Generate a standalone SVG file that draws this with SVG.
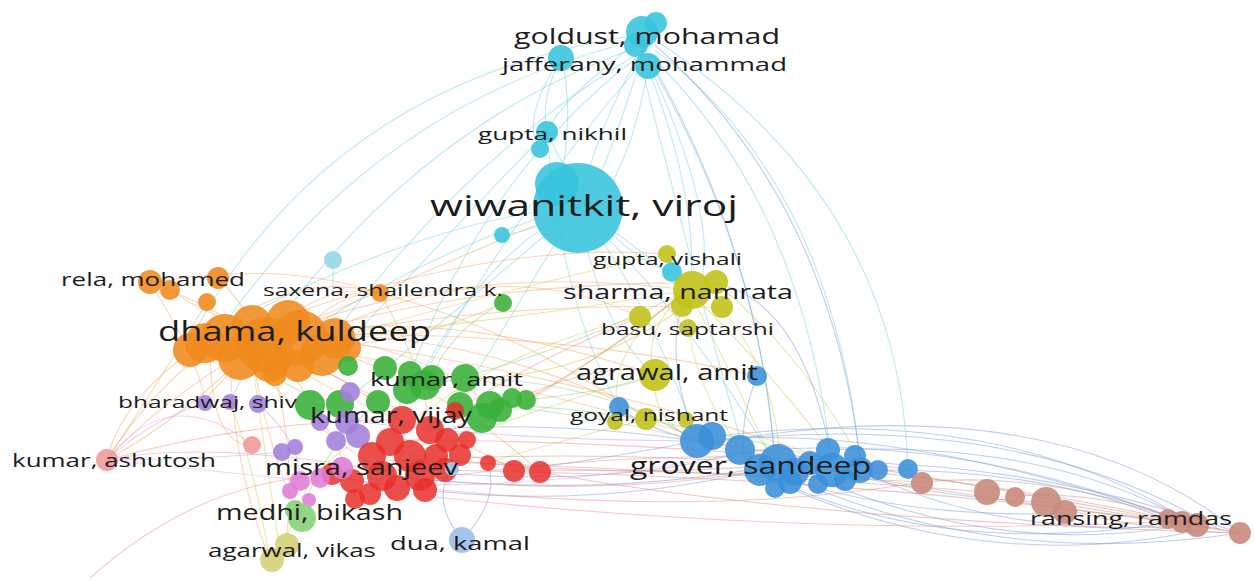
<svg xmlns="http://www.w3.org/2000/svg" width="1254" height="581" viewBox="0 0 1254 581">
<style>
.e{fill:none;stroke-width:1.1}
.ecy{stroke:#7fd4e3;opacity:.5}
.eor{stroke:#f3a463;opacity:.45}
.eye{stroke:#d3d164;opacity:.5}
.ebl{stroke:#7f9fd6;opacity:.5}
.ebr{stroke:#cf9488;opacity:.5}
.ere{stroke:#ec7f7c;opacity:.42}
.egr{stroke:#86cf86;opacity:.45}
.epu{stroke:#b9a0e2;opacity:.45}
.epk{stroke:#e9a0e0;opacity:.45}
.cy{fill:#36c4dc;opacity:.88}
.lcy{fill:#9edbe6}
.ye{fill:#c2c21c;opacity:.9}
.lye{fill:#d6d47e;opacity:.95}
.bl{fill:#3a8fd9;opacity:.88}
.lbl{fill:#a4c5ea}
.br{fill:#c98a7c;opacity:.9}
.or{fill:#ef8a1d;opacity:.88}
.gr{fill:#38b038;opacity:.88}
.lgr{fill:#8dd47f;opacity:.95}
.pu{fill:#a27fdb;opacity:.88}
.pk{fill:#e07bd6;opacity:.88}
.lre{fill:#ef9b9b;opacity:.9}
.re{fill:#e8302c;opacity:.85}
text{font-family:"Open Sans","Liberation Sans",sans-serif;fill:#1c1c1c}
</style>
<rect width="1254" height="581" fill="#ffffff"/>
<g id="connectors">
<!-- cyan -->
<path class="e ecy" d="M645,45 Q600,120 578,207"/>
<path class="e ecy" d="M645,45 Q620,130 590,200"/>
<path class="e ecy" d="M650,50 Q640,140 600,205"/>
<path class="e ecy" d="M640,40 Q560,100 547,132"/>
<path class="e ecy" d="M561,57 Q540,100 547,132"/>
<path class="e ecy" d="M561,57 Q575,110 560,185"/>
<path class="e ecy" d="M561,57 Q520,120 540,149"/>
<path class="e ecy" d="M645,60 Q700,200 690,290"/>
<path class="e ecy" d="M648,62 Q720,220 700,285"/>
<path class="e ecy" d="M650,55 Q800,200 830,450"/>
<path class="e ecy" d="M655,50 Q830,180 860,460"/>
<path class="e ecy" d="M645,55 Q760,250 775,460"/>
<path class="e ecy" d="M640,60 Q700,300 745,455"/>
<path class="e ecy" d="M645,45 Q420,120 265,340"/>
<path class="e ecy" d="M640,40 Q380,100 220,330"/>
<path class="e ecy" d="M645,50 Q470,150 330,340"/>
<path class="e ecy" d="M638,35 Q330,80 190,340"/>
<path class="e ecy" d="M645,60 Q520,200 410,400"/>
<path class="e ecy" d="M640,55 Q450,200 380,470"/>
<path class="e ecy" d="M655,40 Q900,200 908,469"/>
<path class="e ecy" d="M578,207 Q450,240 300,335"/>
<path class="e ecy" d="M578,207 Q470,260 400,420"/>
<path class="e ecy" d="M578,207 Q520,300 430,450"/>
<path class="e ecy" d="M578,207 Q650,300 697,441"/>
<path class="e ecy" d="M578,207 Q700,330 775,465"/>
<path class="e ecy" d="M578,207 Q630,240 688,290"/>
<path class="e ecy" d="M578,207 Q420,220 220,330"/>
<path class="e ecy" d="M578,207 Q540,230 502,235"/>
<path class="e ecy" d="M578,207 Q470,300 340,405"/>
<path class="e ecy" d="M578,207 Q600,330 655,375"/>
<path class="e ecy" d="M547,132 Q480,200 350,340"/>
<path class="e ecy" d="M547,132 Q600,250 672,272"/>
<path class="e ecy" d="M547,132 Q560,300 620,410"/>
<path class="e ecy" d="M333,260 L333,300"/>
<!-- orange -->
<path class="e eor" d="M265,340 Q320,280 380,293"/>
<path class="e eor" d="M220,330 Q300,270 380,293"/>
<path class="e eor" d="M300,335 Q340,290 380,293"/>
<path class="e eor" d="M265,340 Q450,260 688,290"/>
<path class="e eor" d="M300,335 Q480,280 715,283"/>
<path class="e eor" d="M330,330 Q500,250 640,317"/>
<path class="e eor" d="M320,335 Q520,300 722,308"/>
<path class="e eor" d="M250,330 Q480,240 667,254"/>
<path class="e eor" d="M265,340 Q430,300 655,375"/>
<path class="e eor" d="M300,335 Q500,330 697,441"/>
<path class="e eor" d="M320,350 Q560,390 740,450"/>
<path class="e eor" d="M265,340 Q160,400 107,460"/>
<path class="e eor" d="M220,340 Q150,390 107,460"/>
<path class="e eor" d="M250,350 Q180,420 107,460"/>
<path class="e eor" d="M200,345 Q120,400 107,460"/>
<path class="e eor" d="M265,340 Q300,450 285,548"/>
<path class="e eor" d="M250,345 Q270,460 300,517"/>
<path class="e eor" d="M230,345 Q230,460 270,560"/>
<path class="e eor" d="M210,345 Q210,450 255,445"/>
<path class="e eor" d="M265,340 Q420,420 515,470"/>
<path class="e eor" d="M300,340 Q440,380 540,472"/>
<path class="e eor" d="M265,340 Q400,330 490,405"/>
<path class="e eor" d="M265,340 Q300,380 400,420"/>
<path class="e eor" d="M240,350 Q300,420 380,470"/>
<path class="e eor" d="M280,360 Q330,420 350,480"/>
<path class="e eor" d="M150,283 Q200,300 265,340"/>
<path class="e eor" d="M218,278 Q240,300 265,340"/>
<path class="e eor" d="M170,290 Q230,330 300,340"/>
<path class="e eor" d="M150,283 Q280,260 380,293"/>
<path class="e eor" d="M150,283 Q200,360 205,403"/>
<path class="e eor" d="M265,340 Q500,240 578,207"/>
<path class="e eor" d="M265,340 Q200,400 205,403"/>
<path class="e eor" d="M265,340 Q380,360 503,303"/>
<path class="e eor" d="M300,335 Q560,330 757,376"/>
<path class="e eor" d="M330,340 Q600,380 830,460"/>
<path class="e eor" d="M207,302 Q160,380 107,460"/>
<path class="e eor" d="M380,293 Q430,380 430,440"/>
<path class="e eor" d="M380,293 Q520,330 646,419"/>
<!-- yellow -->
<path class="e eye" d="M688,290 Q640,330 655,375"/>
<path class="e eye" d="M688,290 Q720,350 775,465"/>
<path class="e eye" d="M688,290 Q760,360 830,450"/>
<path class="e eye" d="M715,283 Q800,350 860,460"/>
<path class="e eye" d="M640,317 Q500,350 400,430"/>
<path class="e eye" d="M688,290 Q520,320 300,340"/>
<path class="e eye" d="M655,375 Q650,420 697,441"/>
<path class="e eye" d="M655,375 Q560,400 430,450"/>
<path class="e eye" d="M688,290 Q600,350 620,418"/>
<path class="e eye" d="M722,308 Q780,380 780,470"/>
<path class="e eye" d="M688,290 Q550,400 380,480"/>
<path class="e eye" d="M688,328 Q700,400 744,452"/>
<path class="e eye" d="M716,282 Q600,380 465,378"/>
<path class="e eye" d="M270,560 Q250,450 230,402"/>
<path class="e eye" d="M285,548 Q300,470 360,440"/>
<path class="e eye" d="M280,550 Q260,420 250,345"/>
<path class="e eye" d="M645,420 Q560,440 488,463"/>
<path class="e eye" d="M667,254 Q500,290 330,340"/>
<!-- blue -->
<path class="e ebl" d="M697,441 Q900,420 1195,525"/>
<path class="e ebl" d="M744,452 Q950,430 1180,521"/>
<path class="e ebl" d="M775,465 Q1000,450 1240,533"/>
<path class="e ebl" d="M830,450 Q1050,440 1195,525"/>
<path class="e ebl" d="M860,470 Q1000,540 1195,525"/>
<path class="e ebl" d="M775,480 Q950,560 1180,521"/>
<path class="e ebl" d="M790,478 Q1000,570 1240,533"/>
<path class="e ebl" d="M760,475 Q980,580 1210,528"/>
<path class="e ebl" d="M700,445 Q1050,380 1240,533"/>
<path class="e ebl" d="M710,437 Q1000,400 1195,525"/>
<path class="e ebl" d="M720,440 Q1020,410 1220,530"/>
<path class="e ebl" d="M760,470 Q900,520 1065,513"/>
<path class="e ebl" d="M830,470 Q950,500 1047,502"/>
<path class="e ebl" d="M880,470 Q1050,470 1168,520"/>
<path class="e ebl" d="M810,475 Q1000,560 1190,524"/>
<path class="e ebl" d="M697,441 Q600,460 515,470"/>
<path class="e ebl" d="M744,452 Q600,490 410,470"/>
<path class="e ebl" d="M775,465 Q600,500 380,475"/>
<path class="e ebl" d="M697,441 Q550,420 430,430"/>
<path class="e ebl" d="M760,470 Q550,520 330,475"/>
<path class="e ebl" d="M830,450 Q800,300 715,283"/>
<path class="e ebl" d="M775,465 Q760,250 650,60"/>
<path class="e ebl" d="M860,460 Q830,200 655,45"/>
<path class="e ebl" d="M757,376 Q740,420 744,452"/>
<path class="e ebl" d="M697,441 Q660,350 688,290"/>
<path class="e ebl" d="M619,408 Q650,430 697,441"/>
<path class="e ebl" d="M462,540 Q430,500 452,468"/>
<path class="e ebl" d="M462,540 Q500,500 488,463"/>
<!-- brown -->
<path class="e ebr" d="M1240,533 Q900,470 697,441"/>
<path class="e ebr" d="M1195,525 Q900,490 744,452"/>
<path class="e ebr" d="M1180,521 Q800,440 410,460"/>
<path class="e ebr" d="M1195,525 Q800,470 370,470"/>
<path class="e ebr" d="M922,482 Q700,470 515,470"/>
<path class="e ebr" d="M987,492 Q700,470 390,460"/>
<path class="e ebr" d="M1240,533 Q1100,510 1047,502"/>
<path class="e ebr" d="M922,482 Q1050,470 1195,525"/>
<path class="e ebr" d="M1240,533 Q800,520 540,472"/>
<path class="e ebr" d="M1015,496 Q1100,490 1180,521"/>
<path class="e ebr" d="M1046,502 Q1120,530 1240,533"/>
<!-- red -->
<path class="e ere" d="M410,455 Q600,480 775,465"/>
<path class="e ere" d="M400,440 Q600,440 830,460"/>
<path class="e ere" d="M380,475 Q600,500 760,470"/>
<path class="e ere" d="M430,450 Q500,460 540,472"/>
<path class="e ere" d="M400,420 Q250,420 107,460"/>
<path class="e ere" d="M380,470 Q200,440 107,460"/>
<path class="e ere" d="M90,578 Q200,480 330,475"/>
<path class="e ere" d="M400,420 Q350,380 265,340"/>
<path class="e ere" d="M410,455 Q550,400 688,290"/>
<path class="e ere" d="M380,475 Q460,390 640,317"/>
<path class="e ere" d="M430,440 Q600,350 655,375"/>
<path class="e ere" d="M395,485 Q700,520 922,482"/>
<path class="e ere" d="M370,490 Q800,540 1180,521"/>
<path class="e ere" d="M420,480 Q700,440 908,469"/>
<!-- green -->
<path class="e egr" d="M465,378 Q600,380 697,441"/>
<path class="e egr" d="M410,390 Q550,360 688,290"/>
<path class="e egr" d="M490,405 Q650,420 775,465"/>
<path class="e egr" d="M503,303 Q450,330 430,380"/>
<path class="e egr" d="M300,517 Q320,450 380,400"/>
<path class="e egr" d="M340,405 Q250,380 265,340"/>
<path class="e egr" d="M460,405 Q600,400 830,460"/>
<path class="e egr" d="M525,400 Q620,390 655,375"/>
<!-- purple / pink -->
<path class="e epu" d="M205,403 Q150,420 107,460"/>
<path class="e epu" d="M258,404 Q300,440 300,480"/>
<path class="e epu" d="M345,420 Q500,440 697,441"/>
<path class="e epu" d="M230,402 Q250,360 265,340"/>
<path class="e epu" d="M282,452 Q200,460 107,460"/>
<path class="e epk" d="M300,480 Q200,470 107,460"/>
<path class="e epk" d="M320,478 Q500,500 744,452"/>
<path class="e epk" d="M252,445 Q170,380 107,460"/>
</g>
<g id="node-goldust"><circle class="cy" cx="642" cy="32" r="16"/><circle class="cy" cx="656" cy="23" r="11"/><circle class="cy" cx="636" cy="45" r="12"/></g>
<g id="node-jafferany"><circle class="cy" cx="648" cy="66" r="13"/><circle class="cy" cx="561" cy="58" r="13"/></g>
<g id="node-gupta-nikhil"><circle class="cy" cx="547" cy="132" r="11"/><circle class="cy" cx="540" cy="149" r="9"/></g>
<g id="node-wiwanitkit"><circle class="cy" cx="578" cy="208" r="45"/><circle class="cy" cx="557" cy="184" r="22"/><circle class="cy" cx="502" cy="235" r="8"/><circle class="lcy" cx="333" cy="260" r="9"/></g>
<g id="node-gupta-vishali"><circle class="ye" cx="667" cy="254" r="9"/><circle class="cy" cx="672" cy="272" r="10"/></g>
<g id="node-sharma"><circle class="ye" cx="692" cy="290" r="19"/><circle class="ye" cx="716" cy="282" r="12"/><circle class="ye" cx="682" cy="306" r="11"/><circle class="ye" cx="640" cy="317" r="11"/><circle class="ye" cx="722" cy="307" r="11"/></g>
<g id="node-basu"><circle class="ye" cx="688" cy="328" r="9"/></g>
<g id="node-agrawal"><circle class="ye" cx="655" cy="375" r="16"/><circle class="bl" cx="757" cy="376" r="10"/></g>
<g id="node-goyal"><circle class="bl" cx="619" cy="407" r="10"/><circle class="ye" cx="615" cy="422" r="8"/><circle class="ye" cx="646" cy="419" r="11"/><circle class="ye" cx="686" cy="420" r="8"/></g>
<g id="node-grover">
<circle class="bl" cx="697" cy="441" r="17"/><circle class="bl" cx="712" cy="436" r="14"/><circle class="bl" cx="740" cy="450" r="15"/><circle class="bl" cx="760" cy="470" r="16"/><circle class="bl" cx="778" cy="463" r="19"/><circle class="bl" cx="795" cy="472" r="14"/><circle class="bl" cx="790" cy="482" r="12"/><circle class="bl" cx="775" cy="488" r="10"/><circle class="bl" cx="828" cy="450" r="12"/><circle class="bl" cx="832" cy="470" r="17"/><circle class="bl" cx="845" cy="480" r="11"/><circle class="bl" cx="855" cy="456" r="11"/><circle class="bl" cx="860" cy="470" r="13"/><circle class="bl" cx="878" cy="470" r="10"/><circle class="bl" cx="908" cy="469" r="10"/><circle class="bl" cx="810" cy="463" r="12"/><circle class="bl" cx="818" cy="484" r="10"/></g>
<g id="node-ransing">
<circle class="br" cx="922" cy="483" r="11"/><circle class="br" cx="987" cy="492" r="13"/><circle class="br" cx="1015" cy="497" r="10"/><circle class="br" cx="1046" cy="502" r="15"/><circle class="br" cx="1065" cy="512" r="12"/><circle class="br" cx="1168" cy="519" r="10"/><circle class="br" cx="1182" cy="522" r="11"/><circle class="br" cx="1197" cy="525" r="12"/><circle class="br" cx="1240" cy="533" r="11"/></g>
<g id="node-dhama">
<circle class="or" cx="190" cy="350" r="17"/><circle class="or" cx="205" cy="343" r="20"/><circle class="or" cx="225" cy="338" r="24"/><circle class="or" cx="252" cy="325" r="20"/><circle class="or" cx="240" cy="358" r="22"/><circle class="or" cx="265" cy="345" r="28"/><circle class="or" cx="288" cy="322" r="22"/><circle class="or" cx="300" cy="338" r="28"/><circle class="or" cx="322" cy="354" r="22"/><circle class="or" cx="335" cy="338" r="20"/><circle class="or" cx="348" cy="348" r="13"/><circle class="or" cx="270" cy="362" r="20"/><circle class="or" cx="298" cy="366" r="16"/><circle class="or" cx="275" cy="374" r="12"/><circle class="or" cx="207" cy="302" r="9"/></g>
<g id="node-rela"><circle class="or" cx="150" cy="282" r="12"/><circle class="or" cx="170" cy="290" r="10"/><circle class="or" cx="218" cy="278" r="11"/></g>
<g id="node-saxena"><circle class="or" cx="380" cy="293" r="9"/><circle class="gr" cx="503" cy="303" r="9"/></g>
<g id="node-kumar-amit">
<circle class="gr" cx="348" cy="366" r="10"/><circle class="gr" cx="385" cy="368" r="12"/><circle class="gr" cx="410" cy="373" r="12"/><circle class="gr" cx="407" cy="390" r="14"/><circle class="gr" cx="425" cy="385" r="15"/><circle class="gr" cx="432" cy="378" r="13"/><circle class="gr" cx="465" cy="378" r="14"/><circle class="gr" cx="460" cy="405" r="13"/><circle class="gr" cx="490" cy="405" r="14"/><circle class="gr" cx="482" cy="418" r="15"/><circle class="gr" cx="500" cy="410" r="12"/><circle class="gr" cx="512" cy="398" r="10"/><circle class="gr" cx="526" cy="400" r="10"/></g>
<g id="node-bharadwaj"><circle class="pu" cx="205" cy="403" r="8"/><circle class="pu" cx="230" cy="402" r="8"/><circle class="pu" cx="258" cy="404" r="9"/></g>
<g id="node-kumar-vijay">
<circle class="gr" cx="310" cy="405" r="15"/><circle class="gr" cx="340" cy="404" r="14"/><circle class="gr" cx="378" cy="402" r="12"/><circle class="pu" cx="350" cy="392" r="10"/><circle class="pu" cx="320" cy="422" r="9"/><circle class="pu" cx="347" cy="422" r="12"/><circle class="pu" cx="358" cy="436" r="12"/><circle class="pu" cx="336" cy="441" r="10"/><circle class="pu" cx="282" cy="452" r="9"/><circle class="pu" cx="295" cy="447" r="8"/>
<circle class="re" cx="402" cy="420" r="14"/><circle class="re" cx="430" cy="430" r="14"/><circle class="re" cx="447" cy="440" r="12"/><circle class="re" cx="455" cy="411" r="9"/><circle class="re" cx="467" cy="440" r="9"/></g>
<g id="node-misra">
<circle class="re" cx="390" cy="442" r="14"/><circle class="re" cx="372" cy="456" r="14"/><circle class="re" cx="410" cy="456" r="16"/><circle class="re" cx="436" cy="456" r="12"/><circle class="re" cx="460" cy="455" r="11"/><circle class="re" cx="382" cy="476" r="15"/><circle class="re" cx="420" cy="476" r="15"/><circle class="re" cx="445" cy="470" r="12"/><circle class="re" cx="352" cy="481" r="12"/><circle class="re" cx="397" cy="488" r="13"/><circle class="re" cx="425" cy="490" r="12"/><circle class="re" cx="332" cy="474" r="11"/><circle class="re" cx="370" cy="494" r="11"/><circle class="re" cx="355" cy="499" r="10"/><circle class="re" cx="488" cy="463" r="8"/><circle class="re" cx="514" cy="471" r="11"/><circle class="re" cx="540" cy="472" r="11"/>
<circle class="pk" cx="300" cy="481" r="10"/><circle class="pk" cx="290" cy="491" r="8"/><circle class="pk" cx="320" cy="478" r="10"/><circle class="pk" cx="309" cy="500" r="7"/><circle class="pk" cx="342" cy="468" r="11"/></g>
<g id="node-kumar-ashutosh"><circle class="lre" cx="107" cy="460" r="11"/><circle class="lre" cx="252" cy="445" r="9"/></g>
<g id="node-medhi"><circle class="lgr" cx="295" cy="510" r="10"/><circle class="lgr" cx="302" cy="518" r="14"/></g>
<g id="node-agarwal-vikas"><circle class="lye" cx="287" cy="545" r="12"/><circle class="lye" cx="272" cy="560" r="12"/></g>
<g id="node-dua"><circle class="lbl" cx="462" cy="540" r="13"/><circle class="lbl" cx="452" cy="469" r="7"/></g>
<g id="labels">
<text x="514" y="44" font-size="22" textLength="266" lengthAdjust="spacingAndGlyphs">goldust, mohamad</text>
<text x="502" y="71" font-size="19" textLength="285" lengthAdjust="spacingAndGlyphs">jafferany, mohammad</text>
<text x="478" y="140" font-size="17" textLength="149" lengthAdjust="spacingAndGlyphs">gupta, nikhil</text>
<text x="430" y="216" font-size="30" textLength="308" lengthAdjust="spacingAndGlyphs">wiwanitkit, viroj</text>
<text x="593" y="265" font-size="16" textLength="149" lengthAdjust="spacingAndGlyphs">gupta, vishali</text>
<text x="563" y="299" font-size="20" textLength="230" lengthAdjust="spacingAndGlyphs">sharma, namrata</text>
<text x="601" y="335" font-size="16" textLength="173" lengthAdjust="spacingAndGlyphs">basu, saptarshi</text>
<text x="576" y="380" font-size="21" textLength="182" lengthAdjust="spacingAndGlyphs">agrawal, amit</text>
<text x="570" y="421" font-size="16" textLength="158" lengthAdjust="spacingAndGlyphs">goyal, nishant</text>
<text x="630" y="474" font-size="23" textLength="241" lengthAdjust="spacingAndGlyphs">grover, sandeep</text>
<text x="1030" y="525" font-size="19" textLength="202" lengthAdjust="spacingAndGlyphs">ransing, ramdas</text>
<text x="61" y="286" font-size="18" textLength="184" lengthAdjust="spacingAndGlyphs">rela, mohamed</text>
<text x="263" y="296" font-size="16" textLength="240" lengthAdjust="spacingAndGlyphs">saxena, shailendra k.</text>
<text x="158" y="341" font-size="27" textLength="273" lengthAdjust="spacingAndGlyphs">dhama, kuldeep</text>
<text x="370" y="386" font-size="19" textLength="153" lengthAdjust="spacingAndGlyphs">kumar, amit</text>
<text x="118" y="408" font-size="16" textLength="179" lengthAdjust="spacingAndGlyphs">bharadwaj, shiv</text>
<text x="310" y="423" font-size="22" textLength="162" lengthAdjust="spacingAndGlyphs">kumar, vijay</text>
<text x="12" y="467" font-size="19" textLength="204" lengthAdjust="spacingAndGlyphs">kumar, ashutosh</text>
<text x="265" y="475" font-size="22" textLength="193" lengthAdjust="spacingAndGlyphs">misra, sanjeev</text>
<text x="216" y="520" font-size="21" textLength="187" lengthAdjust="spacingAndGlyphs">medhi, bikash</text>
<text x="208" y="557" font-size="18" textLength="168" lengthAdjust="spacingAndGlyphs">agarwal, vikas</text>
<text x="390" y="550" font-size="18" textLength="140" lengthAdjust="spacingAndGlyphs">dua, kamal</text>
</g>
</svg>
